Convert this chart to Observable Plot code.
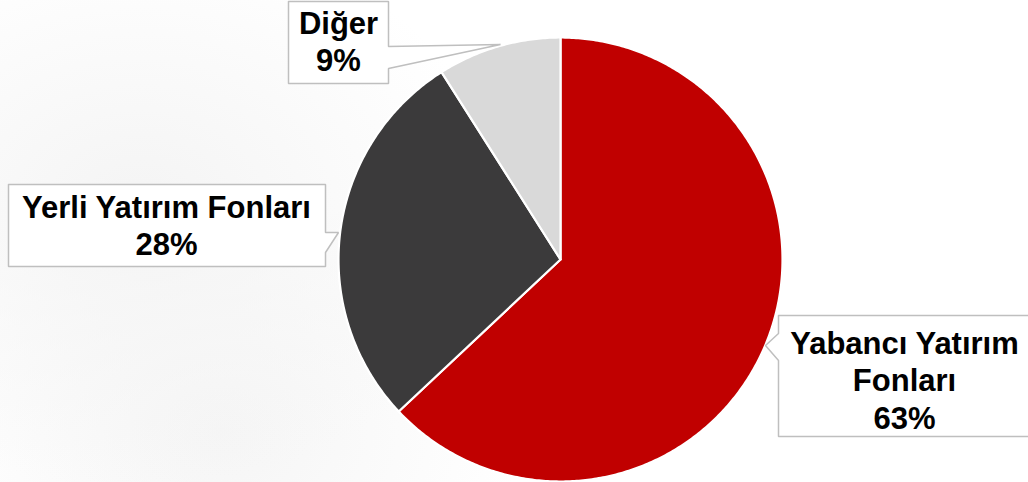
<!DOCTYPE html>
<html>
<head>
<meta charset="utf-8">
<script src="https://cdn.jsdelivr.net/npm/d3@7"></script>
<script src="https://cdn.jsdelivr.net/npm/@observablehq/plot@0.6"></script>
<style>
  html, body { margin: 0; padding: 0; }
  body {
    width: 1028px; height: 482px; overflow: hidden;
    background:
      radial-gradient(ellipse 360px 280px at 140px 210px, #f4f4f4 0%, rgba(255,255,255,0) 100%),
      radial-gradient(ellipse 300px 240px at 220px 430px, #f5f5f5 0%, rgba(255,255,255,0) 100%),
      #ffffff;
  }
  #chart svg { display: block; background: transparent !important; }
</style>
</head>
<body>
<div id="chart"></div>
<script>
// ---- data ----
const categories = ["Yabancı Yatırım Fonları", "Yerli Yatırım Fonları", "Diğer"];
const shares = [63, 28, 9];
const labelLines = ["Yabancı Yatırım\nFonları", "Yerli Yatırım Fonları", "Diğer"];
const sliceColors = ["#c00000", "#3b3a3b", "#d9d9d9"];

// ---- layout (pixel space of the plot) ----
const W = 1028, H = 482;
const pie = {cx: 560, cy: 259, r: 222};
const boxes = [
  {x0: 778, x1: 1032, y0: 315, y1: 436, side: "left",  p0: 333, p1: 360, tip: [765, 345], tx: 904, ty: 379},
  {x0: 8,   x1: 325,  y0: 184, y1: 266, side: "right", p0: 232, p1: 252, tip: [338, 232], tx: 166, ty: 224},
  {x0: 288, x1: 388,  y0: 1,   y1: 83,  side: "right", p0: 46,  p1: 68,  tip: [500, 44],  tx: 338, ty: 40}
];

// ---- geometry from data ----
const arcs = d3.pie().sort(null).value(d => d).startAngle(0).endAngle(2 * Math.PI)(shares);
function slicePoints(a, i) {
  const pts = [{x: pie.cx, y: pie.cy, i}];
  const n = Math.max(8, Math.ceil((a.endAngle - a.startAngle) / 0.01));
  for (let k = 0; k <= n; ++k) {
    const t = a.startAngle + (a.endAngle - a.startAngle) * k / n;
    pts.push({x: pie.cx + pie.r * Math.sin(t), y: pie.cy - pie.r * Math.cos(t), i});
  }
  pts.push({x: pie.cx, y: pie.cy, i});
  return pts;
}
function calloutPoints(b) {
  let pts;
  if (b.side === "left") {
    pts = [[b.x0, b.y0], [b.x1, b.y0], [b.x1, b.y1], [b.x0, b.y1], [b.x0, b.p1], b.tip, [b.x0, b.p0], [b.x0, b.y0]];
  } else {
    pts = [[b.x0, b.y0], [b.x1, b.y0], [b.x1, b.p0], b.tip, [b.x1, b.p1], [b.x1, b.y1], [b.x0, b.y1], [b.x0, b.y0]];
  }
  return pts.map(([x, y]) => ({x, y}));
}

const marks = [];
arcs.forEach((a, i) => {
  marks.push(Plot.line(slicePoints(a, i), {
    x: "x", y: "y", fill: sliceColors[i], stroke: "#ffffff", strokeWidth: 2.2, strokeLinejoin: "round"
  }));
});
boxes.forEach((b, i) => {
  marks.push(Plot.line(calloutPoints(b), {
    x: "x", y: "y", fill: "#ffffff", stroke: "#bfbfbf", strokeWidth: 1.5, strokeLinejoin: "miter"
  }));
});
const labels = categories.map((c, i) => ({
  text: labelLines[i] + "\n" + shares[i] + "%",
  x: boxes[i].tx, y: boxes[i].ty
}));
marks.push(Plot.text(labels, {
  x: "x", y: "y", text: "text", fill: "#000000",
  fontSize: 31, fontWeight: "bold", lineHeight: 1.2,
  fontFamily: "'Liberation Sans', Arial, sans-serif", textAnchor: "middle", lineAnchor: "middle"
}));

const chart = Plot.plot({
  width: W, height: H,
  margin: 0,
  x: {domain: [0, W], range: [0, W], axis: null},
  y: {domain: [0, H], range: [0, H], axis: null},
  style: {background: "transparent", overflow: "visible"},
  marks
});
document.getElementById("chart").appendChild(chart);
</script>
</body>
</html>
